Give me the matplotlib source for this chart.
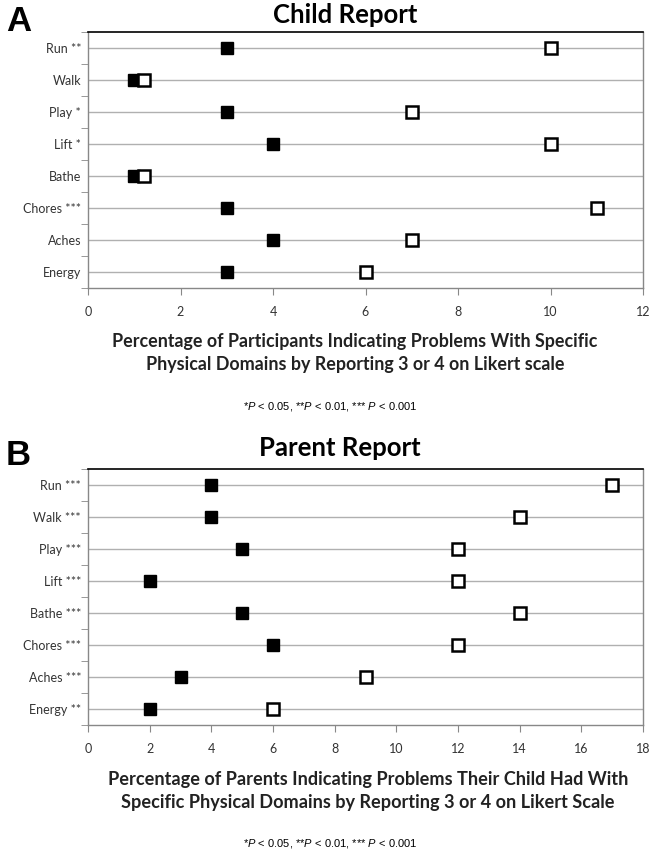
import matplotlib
matplotlib.use("Agg")
import matplotlib.pyplot as plt
from matplotlib.ticker import MultipleLocator, FixedLocator

plt.rcParams['mathtext.fontset'] = 'custom'
plt.rcParams['mathtext.it'] = 'Liberation Sans:italic'
plt.rcParams['mathtext.rm'] = 'Liberation Sans'

child_labels = ["Run **", "Walk", "Play *", "Lift *", "Bathe", "Chores ***", "Aches", "Energy"]
child_filled = [3, 1, 3, 4, 1, 3, 4, 3]
child_open = [10, 1.2, 7, 10, 1.2, 11, 7, 6]

parent_labels = ["Run ***", "Walk ***", "Play ***", "Lift ***", "Bathe ***", "Chores ***", "Aches ***", "Energy **"]
parent_filled = [4, 4, 5, 2, 5, 6, 3, 2]
parent_open = [17, 14, 12, 12, 14, 12, 9, 6]

W, H = 653, 851
fig = plt.figure(figsize=(W / 100, H / 100), dpi=100)

FONT = "Lato"
grey = "#b0b0b0"


def panel(top_px, labels, filled, opened, xmax, title, letter, xlabel, title_x, title_base,
          letter_base, xlab_x, xlab_y, xlab_size, foot_y):
    left, right, bottom = 88, 643, top_px + 256
    ax = fig.add_axes([left / W, 1 - bottom / H, (right - left) / W, 256 / H])
    n = len(labels)
    ys = list(range(n))
    for y in ys:
        ax.axhline(y, color=grey, lw=1.0, zorder=1)
    ax.plot(filled, ys, linestyle="none", marker="s", ms=8.5, mfc="black", mec="black", mew=1, zorder=3)
    ax.plot(opened, ys, linestyle="none", marker="s", ms=8.0, mfc="white", mec="black", mew=1.8, zorder=3)
    ax.set_xlim(0, xmax)
    ax.set_ylim(n - 0.5, -0.5)
    ax.xaxis.set_major_locator(MultipleLocator(2))
    ax.set_yticks(ys)
    ax.set_yticklabels(labels, fontsize=9, family=FONT, color="#333333")
    ax.yaxis.set_minor_locator(FixedLocator([y + 0.5 for y in range(-1, n)]))
    ax.tick_params(axis="y", which="major", length=0, pad=5)
    ax.tick_params(axis="y", which="minor", length=5, color="#888888")
    ax.tick_params(axis="x", which="major", length=5, color="#888888", labelsize=9, pad=8, labelcolor="#333333")
    for lab in ax.get_xticklabels():
        lab.set_family(FONT)
    ax.spines["top"].set_color("black")
    ax.spines["top"].set_linewidth(1.2)
    for s in ("left", "bottom", "right"):
        ax.spines[s].set_color("#888888")
        ax.spines[s].set_linewidth(1.0)
    fig.text(title_x / W, 1 - title_base / H, title, ha="center", va="baseline",
             fontsize=18.5, fontweight="bold", family=FONT)
    fig.text(6 / W, 1 - letter_base / H, letter, ha="left", va="baseline", fontsize=25, fontweight="bold",
             family="Liberation Sans")
    fig.text(xlab_x / W, 1 - xlab_y / H, xlabel, ha="center", va="center", fontsize=xlab_size,
             fontweight="bold", family=FONT, color="#222222", linespacing=1.45)
    fig.text(330 / W, 1 - foot_y / H,
             r"*$\mathit{P}$ < 0.05, **$\mathit{P}$ < 0.01, *** $\mathit{P}$ < 0.001",
             ha="center", va="center", fontsize=8, family="Liberation Sans")
    return ax


panel(32, child_labels, child_filled, child_open, 12, "Child Report", "A",
      "Percentage of Participants Indicating Problems With Specific\nPhysical Domains by Reporting 3 or 4 on Likert scale",
      345, 23, 31, 355, 353, 12.9, 406)
panel(469, parent_labels, parent_filled, parent_open, 18, "Parent Report", "B",
      "Percentage of Parents Indicating Problems Their Child Had With\nSpecific Physical Domains by Reporting 3 or 4 on Likert Scale",
      340, 456, 465, 368, 791, 13.1, 843)

fig.savefig("out.png", dpi=100)
